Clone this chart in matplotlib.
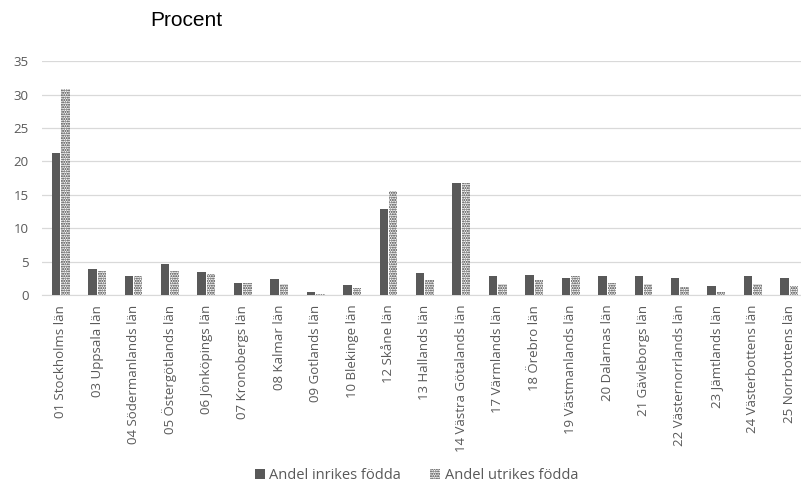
import matplotlib
matplotlib.use("Agg")
import matplotlib.pyplot as plt
import numpy as np
from matplotlib.patches import Patch

plt.rcParams['hatch.linewidth'] = 1.0

categories = ["01 Stockholms län", "03 Uppsala län", "04 Södermanlands län",
              "05 Östergötlands län", "06 Jönköpings län", "07 Kronobergs län",
              "08 Kalmar län", "09 Gotlands län", "10 Blekinge län", "12 Skåne län",
              "13 Hallands län", "14 Västra Götalands län", "17 Värmlands län",
              "18 Örebro län", "19 Västmanlands län", "20 Dalarnas län",
              "21 Gävleborgs län", "22 Västernorrlands län", "23 Jämtlands län",
              "24 Västerbottens län", "25 Norrbottens län"]
inrikes = [21.2, 3.85, 2.85, 4.65, 3.5, 1.75, 2.35, 0.5, 1.5, 12.9,
           3.3, 16.7, 2.85, 3.0, 2.5, 2.85, 2.85, 2.5, 1.35, 2.85, 2.5]
utrikes = [30.9, 3.6, 2.9, 3.6, 3.1, 1.75, 1.6, 0.2, 1.1, 15.6,
           2.2, 16.7, 1.65, 2.25, 2.9, 1.75, 1.65, 1.15, 0.5, 1.6, 1.35]
yticks = [0, 5, 10, 15, 20, 25, 30, 35]
series_names = ["Andel inrikes födda", "Andel utrikes födda"]

fig = plt.figure(figsize=(8.01, 4.82), dpi=100)
ax = fig.add_axes([0.053, 0.388, 0.955, 0.485])

x = np.arange(len(categories))
w = 0.23
ax.bar(x - 0.13, inrikes, width=w, color="#595959", zorder=3)
ax.bar(x + 0.13, utrikes, width=w, facecolor="white", edgecolor="#333333",
       hatch=".......", linewidth=0, zorder=3)

ax.set_xlim(-0.5, len(categories) - 0.5)
ax.set_ylim(0, 35)
ax.set_yticks(yticks)
ax.yaxis.grid(True, color="#d9d9d9", linewidth=0.9, zorder=0)
ax.set_axisbelow(True)
for s in ["top", "right", "left"]:
    ax.spines[s].set_visible(False)
ax.spines["bottom"].set_color("#d9d9d9")
ax.tick_params(axis="both", length=0, colors="#595959")
ax.tick_params(axis="y", pad=10, labelsize=9.5)
ax.tick_params(axis="x", pad=7)
ax.set_xticks(x)
ax.set_xticklabels(categories, rotation=90, fontsize=9.5, family="Open Sans",
                   color="#595959")
for lab in ax.get_yticklabels():
    lab.set_family("Open Sans")

fig.text(0.187, 0.957, "Procent", fontsize=15, family="Liberation Sans",
         color="#000000", va="center")

handles = [Patch(facecolor="#595959", label=series_names[0]),
           Patch(facecolor="white", edgecolor="#333333", hatch=".......",
                 linewidth=0, label=series_names[1])]
leg = fig.legend(handles=handles, loc="center", bbox_to_anchor=(0.52, 0.013),
                 ncol=2, frameon=False, handlelength=0.7,
                 handleheight=0.7, handletextpad=0.3, columnspacing=2.0,
                 prop={"family": "Open Sans", "size": 10.5})
for t in leg.get_texts():
    t.set_color("#595959")

fig.savefig("out.png", dpi=100)
